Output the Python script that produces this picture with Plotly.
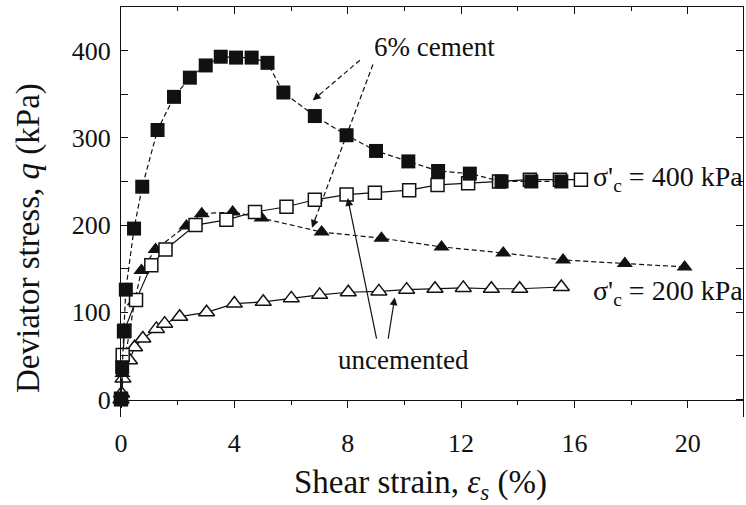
import math
import plotly.graph_objects as go

# Deviator stress vs shear strain, 6% cement vs uncemented, two confining pressures
cem400_x = [0, 0.04, 0.1, 0.17, 0.46, 0.75, 1.29, 1.87, 2.43, 2.99, 3.52, 4.06, 4.61, 5.17,
            5.73, 6.84, 7.96, 9.0, 10.14, 11.19, 12.31, 13.43, 14.48, 15.54]
cem400_q = [0, 37, 78, 126, 196, 244, 309, 347, 369, 383, 393, 392, 392, 386,
            352, 325, 303, 285, 273, 262, 259, 250, 250, 250]

unc400_x = [0, 0.06, 0.12, 0.53, 1.07, 1.57, 2.63, 3.72, 4.73, 5.84, 6.84, 7.96, 8.96,
            10.17, 11.17, 12.25, 13.34, 14.43, 15.49, 16.23]
unc400_q = [1, 51, 79, 114, 154, 172, 200, 206, 215, 221, 229, 235, 237,
            240, 246, 248, 250, 252, 252, 252]

cem200_x = [0, 0.05, 0.48, 0.72, 1.22, 2.31, 2.85, 3.94, 4.96, 7.08, 9.19, 11.31,
            13.49, 15.6, 17.78, 19.89]
cem200_q = [0, 30, 112, 148, 172, 199, 213, 215, 208, 192, 185, 175,
            168, 160, 156, 152]

unc200_x = [0, 0.02, 0.07, 0.3, 0.48, 0.77, 1.25, 1.54, 2.07, 3.02, 4.0, 5.02, 6.01,
            7.01, 8.02, 9.1, 10.08, 11.08, 12.08, 13.07, 14.07, 15.54]
unc200_q = [0, 7, 24, 45, 60, 70, 81, 87, 95, 100, 110, 112, 116,
            120, 123, 124, 126, 127, 128, 127, 127, 129]

x_ticks = [0, 4, 8, 12, 16, 20]
y_ticks = [0, 100, 200, 300, 400]

W, H = 746, 505
M = dict(l=121, r=3, t=7, b=88)
X_RANGE = [0, 21.95]
Y_RANGE = [-20, 450]
FONT = "Liberation Serif, Times New Roman, serif"
INK = "#111111"

fig = go.Figure()

open_marker = dict(color="white", line=dict(color=INK, width=1.5))
fig.add_trace(go.Scatter(x=unc200_x, y=unc200_q, mode="lines+markers",
                         line=dict(color=INK, width=1.2),
                         marker=dict(symbol="triangle-up", size=14, **open_marker),
                         cliponaxis=False, showlegend=False))
fig.add_trace(go.Scatter(x=cem200_x, y=cem200_q, mode="lines+markers",
                         line=dict(color=INK, width=1.2, dash="5px,3px"),
                         marker=dict(symbol="triangle-up", size=14, color=INK),
                         cliponaxis=False, showlegend=False))
fig.add_trace(go.Scatter(x=unc400_x, y=unc400_q, mode="lines+markers",
                         line=dict(color=INK, width=1.2),
                         marker=dict(symbol="square", size=13, **open_marker),
                         cliponaxis=False, showlegend=False))
fig.add_trace(go.Scatter(x=cem400_x, y=cem400_q, mode="lines+markers",
                         line=dict(color=INK, width=1.2, dash="5px,3px"),
                         marker=dict(symbol="square", size=14, color=INK),
                         cliponaxis=False, showlegend=False))

# pixel scale of the plot area, used to orient the short arrow heads
plot_w = W - M["l"] - M["r"]
plot_h = H - M["t"] - M["b"]
px_per_x = plot_w / (X_RANGE[1] - X_RANGE[0])
px_per_y = plot_h / (Y_RANGE[1] - Y_RANGE[0])


def arrow(tail, head, dashed):
    if dashed:
        fig.add_shape(type="line", x0=tail[0], y0=tail[1], x1=head[0], y1=head[1],
                      xref="x", yref="y", line=dict(color=INK, width=1.2, dash="5px,3px"))
        dx = (head[0] - tail[0]) * px_per_x
        dy = -(head[1] - tail[1]) * px_per_y
        n = math.hypot(dx, dy)
        fig.add_annotation(x=head[0], y=head[1], ax=-dx / n * 12, ay=-dy / n * 12,
                           text="", showarrow=True, arrowhead=2, arrowsize=1.3,
                           arrowwidth=1.2, arrowcolor=INK, standoff=0)
    else:
        fig.add_annotation(x=head[0], y=head[1], ax=tail[0], ay=tail[1],
                           axref="x", ayref="y", text="", showarrow=True,
                           arrowhead=2, arrowsize=1.3, arrowwidth=1.2,
                           arrowcolor=INK, standoff=0)


arrow((8.43, 389), (6.77, 343), True)
arrow((8.89, 384), (6.74, 197), True)
arrow((9.03, 68), (8.0, 231), False)
arrow((9.42, 68), (9.66, 117), False)

label_font = dict(family=FONT, size=27, color=INK)
fig.add_annotation(x=11.05, y=404, text="6% cement", showarrow=False, font=label_font)
fig.add_annotation(x=9.98, y=45, text="uncemented", showarrow=False, font=label_font)
sig_font = dict(family=FONT, size=28, color=INK)
fig.add_annotation(x=16.6, y=253, text="σ'<sub>c</sub> = 400 kPa", xanchor="left",
                   showarrow=False, font=sig_font)
fig.add_annotation(x=16.6, y=123, text="σ'<sub>c</sub> = 200 kPa", xanchor="left",
                   showarrow=False, font=sig_font)

# axis titles, placed in paper coordinates
title_font = dict(family=FONT, size=33, color=INK)
fig.add_annotation(xref="paper", yref="paper", x=(420 - M["l"]) / plot_w,
                   y=(H - M["b"] - 485) / plot_h, xanchor="center", yanchor="middle",
                   text="Shear strain, <i>ε<sub>s</sub></i> (%)", showarrow=False,
                   font=title_font)
fig.add_annotation(xref="paper", yref="paper", x=(28 - M["l"]) / plot_w,
                   y=(H - M["b"] - 238) / plot_h, xanchor="center", yanchor="middle",
                   textangle=-90, text="Deviator stress, <i>q</i> (kPa)",
                   showarrow=False, font=title_font)

tick_font = dict(family=FONT, size=26, color=INK)
fig.update_layout(
    width=W, height=H, margin=M,
    paper_bgcolor="white", plot_bgcolor="white",
    font=dict(family=FONT, color=INK),
    xaxis=dict(range=X_RANGE, anchor="free",
               position=(0 - Y_RANGE[0]) / (Y_RANGE[1] - Y_RANGE[0]),
               tickvals=x_ticks, ticks="outside", ticklen=7, tickwidth=1.3,
               tickcolor=INK, showline=True, linecolor=INK, linewidth=1.3,
               showgrid=False, zeroline=False, tickfont=tick_font,
               ticklabelstandoff=13,
               minor=dict(dtick=2, tick0=0, ticks="outside", ticklen=4,
                          tickwidth=1.2, tickcolor=INK, showgrid=False)),
    xaxis2=dict(matches="x", overlaying="x", side="top", anchor="y",
                tickvals=x_ticks, ticks="inside", ticklen=7, tickwidth=1.3,
                tickcolor=INK, showline=True, linecolor=INK, linewidth=1.3,
                showticklabels=False, showgrid=False, zeroline=False,
                minor=dict(dtick=2, tick0=0, ticks="inside", ticklen=4,
                           tickwidth=1.2, tickcolor=INK, showgrid=False)),
    yaxis=dict(range=Y_RANGE, tickvals=y_ticks, ticks="inside", ticklen=7,
               tickwidth=1.3, tickcolor=INK, showline=True, linecolor=INK,
               linewidth=1.3, mirror="allticks", showgrid=False, zeroline=False,
               tickfont=tick_font, ticklabelstandoff=4,
               minor=dict(dtick=50, tick0=0, ticks="inside", ticklen=4,
                          tickwidth=1.2, tickcolor=INK, showgrid=False)),
)
# invisible trace so the top axis is drawn
fig.add_trace(go.Scatter(x=[None], y=[None], xaxis="x2", yaxis="y",
                         showlegend=False, hoverinfo="skip"))

fig.write_html("out.html")
